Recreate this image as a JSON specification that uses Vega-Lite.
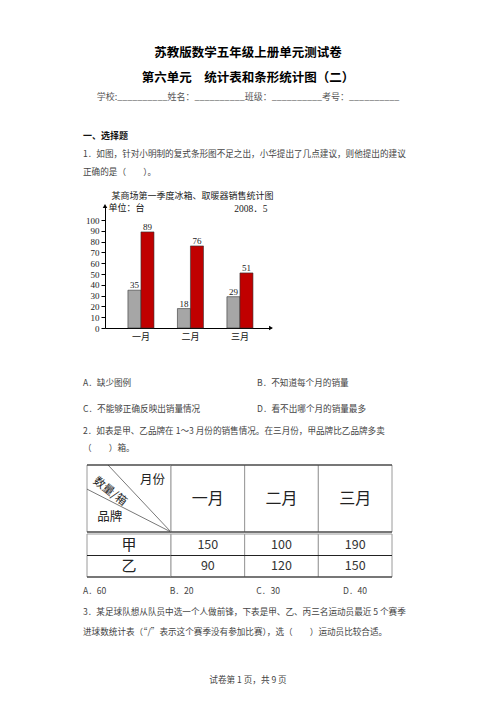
{
  "$schema": "https://vega.github.io/schema/vega-lite/v6.json",
  "padding": 0,
  "spacing": 0,
  "background": "#ffffff",
  "config": {
    "view": {"stroke": null},
    "font": "Noto Sans CJK SC",
    "text": {"font": "Noto Sans CJK SC", "color": "#444444", "baseline": "middle"}
  },
  "datasets": {
    "文本": [
      {"块": "标题", "行": 1, "栏": 1, "文字": "苏教版数学五年级上册单元测试卷"},
      {"块": "标题", "行": 2, "栏": 1, "文字": "第六单元　统计表和条形统计图（二）"},
      {"块": "信息", "行": 1, "栏": 1, "文字": "学校:__________姓名：__________班级：__________考号：__________"},
      {"块": "题一", "行": 1, "栏": 1, "文字": "一、选择题"},
      {"块": "题一", "行": 2, "栏": 1, "文字": "1．如图，针对小明制的复式条形图不足之出，小华提出了几点建议，则他提出的建议"},
      {"块": "题一", "行": 3, "栏": 1, "文字": "正确的是（　　）。"},
      {"块": "题一选项", "行": 1, "栏": 1, "文字": "A．缺少图例"},
      {"块": "题一选项", "行": 1, "栏": 2, "文字": "B．不知道每个月的销量"},
      {"块": "题一选项", "行": 2, "栏": 1, "文字": "C．不能够正确反映出销量情况"},
      {"块": "题一选项", "行": 2, "栏": 2, "文字": "D．看不出哪个月的销量最多"},
      {"块": "题二", "行": 1, "栏": 1, "文字": "2．如表是甲、乙品牌在 1～3 月份的销售情况。在三月份，甲品牌比乙品牌多卖"},
      {"块": "题二", "行": 2, "栏": 1, "文字": "（　　）箱。"},
      {"块": "题二选项", "行": 1, "栏": 1, "文字": "A．60"},
      {"块": "题二选项", "行": 1, "栏": 2, "文字": "B．20"},
      {"块": "题二选项", "行": 1, "栏": 3, "文字": "C．30"},
      {"块": "题二选项", "行": 1, "栏": 4, "文字": "D．40"},
      {"块": "题三", "行": 1, "栏": 1, "文字": "3．某足球队想从队员中选一个人做前锋，下表是甲、乙、丙三名运动员最近 5 个赛季"},
      {"块": "题三", "行": 2, "栏": 1, "文字": "进球数统计表（“/”表示这个赛季没有参加比赛），选（　　）运动员比较合适。"},
      {"块": "页脚", "行": 1, "栏": 1, "文字": "试卷第 1 页，共 9 页"}
    ],
    "销量": [
      {"月份": "一月", "商品": "冰箱", "台数": 35},
      {"月份": "一月", "商品": "取暖器", "台数": 89},
      {"月份": "二月", "商品": "冰箱", "台数": 18},
      {"月份": "二月", "商品": "取暖器", "台数": 76},
      {"月份": "三月", "商品": "冰箱", "台数": 29},
      {"月份": "三月", "商品": "取暖器", "台数": 51}
    ],
    "销售": [
      {"品牌": "甲", "月份": "一月", "箱数": 150},
      {"品牌": "甲", "月份": "二月", "箱数": 100},
      {"品牌": "甲", "月份": "三月", "箱数": 190},
      {"品牌": "乙", "月份": "一月", "箱数": 90},
      {"品牌": "乙", "月份": "二月", "箱数": 120},
      {"品牌": "乙", "月份": "三月", "箱数": 150}
    ],
    "表头标签": [
      {"标签": "月份"},
      {"标签": "数量/箱"},
      {"标签": "品牌"}
    ]
  },
  "vconcat": [
    {
      "width": 496,
      "height": 192,
      "data": {"name": "文本"},
      "resolve": {"scale": {"y": "independent"}},
      "layer": [
        {
          "transform": [{"filter": "datum.块 == '标题'"}],
          "mark": {"type": "text", "fontSize": 12.5, "fontWeight": "bold", "align": "center", "color": "#000000"},
          "encoding": {
            "x": {"value": 248},
            "y": {"field": "行", "type": "ordinal", "scale": {"type": "point", "domain": [1, 2], "range": [53, 77.5], "padding": 0}, "axis": null},
            "text": {"field": "文字"}
          }
        },
        {
          "transform": [{"filter": "datum.块 == '信息'"}],
          "mark": {"type": "text", "fontSize": 9, "align": "center", "color": "#555555"},
          "encoding": {
            "x": {"value": 248},
            "y": {"field": "行", "type": "ordinal", "scale": {"type": "point", "domain": [1], "range": [97, 97], "padding": 0}, "axis": null},
            "text": {"field": "文字"}
          }
        },
        {
          "transform": [{"filter": "datum.块 == '题一' && datum.行 == 1"}],
          "mark": {"type": "text", "fontSize": 9, "fontWeight": "bold", "align": "left", "color": "#111111"},
          "encoding": {
            "x": {"value": 83},
            "y": {"field": "行", "type": "ordinal", "scale": {"type": "point", "domain": [1, 2, 3], "range": [135.5, 172], "padding": 0}, "axis": null},
            "text": {"field": "文字"}
          }
        },
        {
          "transform": [{"filter": "datum.块 == '题一' && datum.行 > 1"}],
          "mark": {"type": "text", "fontSize": 8.6, "align": "left"},
          "encoding": {
            "x": {"value": 83},
            "y": {"field": "行", "type": "ordinal", "scale": {"type": "point", "domain": [1, 2, 3], "range": [135.5, 172], "padding": 0}, "axis": null},
            "text": {"field": "文字"}
          }
        }
      ]
    },
    {
      "width": 271,
      "height": 122,
      "title": {
        "text": "某商场第一季度冰箱、取暖器销售统计图",
        "font": "Noto Sans CJK SC",
        "fontSize": 9,
        "fontWeight": "normal",
        "color": "#222222",
        "anchor": "middle",
        "frame": "group",
        "offset": 2,
        "dx": 57
      },
      "data": {"name": "销量"},
      "layer": [
        {
          "mark": {"type": "bar", "stroke": "#333333", "strokeWidth": 0.6},
          "encoding": {
            "x": {
              "field": "月份", "type": "nominal", "sort": ["一月", "二月", "三月"],
              "scale": {"range": [105, 271], "paddingInner": 0, "paddingOuter": 0.177, "align": 0.64},
              "axis": {
                "title": "2008．5", "titleX": 267, "titleY": -120, "titleAlign": "right", "titleBaseline": "middle",
                "titleFont": "Liberation Serif, Noto Sans CJK SC", "titleFontSize": 9.5, "titleFontWeight": "normal", "titleColor": "#222222",
                "labelAngle": 0, "labelFont": "Noto Sans CJK SC", "labelFontSize": 9, "labelColor": "#111111", "labelPadding": 4,
                "ticks": false, "domainColor": "#000000", "grid": false
              }
            },
            "xOffset": {"field": "商品", "type": "nominal", "sort": ["冰箱", "取暖器"], "scale": {"paddingInner": 0, "paddingOuter": 0.9}},
            "y": {
              "field": "台数", "type": "quantitative",
              "scale": {"domain": [0, 113], "nice": false},
              "axis": {
                "offset": -105,
                "values": [0, 10, 20, 30, 40, 50, 60, 70, 80, 90, 100],
                "tickCount": 11,
                "title": "单位：台", "titleAngle": 0, "titleAlign": "left", "titleBaseline": "middle", "titleX": 3, "titleY": 1,
                "titleFont": "Noto Sans CJK SC", "titleFontSize": 9, "titleFontWeight": "normal", "titleColor": "#111111",
                "labelFont": "Liberation Serif", "labelFontSize": 9, "labelColor": "#222222", "labelPadding": 2,
                "labelOverlap": false, "labelSeparation": 0,
                "tickSize": 4, "tickColor": "#000000", "domainColor": "#000000", "grid": false
              }
            },
            "color": {
              "field": "商品", "type": "nominal",
              "scale": {"domain": ["冰箱", "取暖器"], "range": ["#a6a6a6", "#c00000"]},
              "legend": null
            }
          }
        },
        {
          "mark": {"type": "text", "dy": -5, "font": "Liberation Serif", "fontSize": 9, "color": "#222222"},
          "encoding": {
            "x": {"field": "月份", "type": "nominal", "sort": ["一月", "二月", "三月"]},
            "xOffset": {"field": "商品", "type": "nominal", "sort": ["冰箱", "取暖器"]},
            "y": {"field": "台数", "type": "quantitative"},
            "text": {"field": "台数"}
          }
        },
        {
          "data": {"values": [{"轴": "纵轴"}]},
          "mark": {"type": "point", "shape": "triangle-up", "filled": true, "color": "#000000", "size": 20, "opacity": 1},
          "encoding": {"x": {"value": 105}, "y": {"datum": 113}}
        },
        {
          "data": {"values": [{"轴": "横轴"}]},
          "mark": {"type": "point", "shape": "triangle-right", "filled": true, "color": "#000000", "size": 20, "opacity": 1},
          "encoding": {"x": {"value": 271}, "y": {"datum": 0}}
        }
      ]
    },
    {
      "width": 496,
      "height": 123,
      "data": {"name": "文本"},
      "resolve": {"scale": {"y": "independent"}},
      "layer": [
        {
          "transform": [{"filter": "datum.块 == '题一选项'"}],
          "mark": {"type": "text", "fontSize": 8.6, "align": "left"},
          "encoding": {
            "x": {"field": "栏", "type": "ordinal", "scale": {"type": "point", "domain": [1, 2], "range": [83, 257], "padding": 0}, "axis": null},
            "y": {"field": "行", "type": "ordinal", "scale": {"type": "point", "domain": [1, 2], "range": [42, 68], "padding": 0}, "axis": null},
            "text": {"field": "文字"}
          }
        },
        {
          "transform": [{"filter": "datum.块 == '题二'"}],
          "mark": {"type": "text", "fontSize": 8.6, "align": "left"},
          "encoding": {
            "x": {"value": 83},
            "y": {"field": "行", "type": "ordinal", "scale": {"type": "point", "domain": [1, 2], "range": [90, 107], "padding": 0}, "axis": null},
            "text": {"field": "文字"}
          }
        }
      ]
    },
    {
      "hconcat": [
        {
          "width": 171,
          "height": 67,
          "layer": [
            {
              "data": {"values": [{"格": "表头"}]},
              "mark": {"type": "rect", "fill": "#ffffff", "stroke": "#9a9a9a", "strokeWidth": 1},
              "encoding": {
                "x": {"datum": 0, "type": "quantitative", "scale": {"domain": [0, 1], "range": [87, 171]}, "axis": null},
                "x2": {"datum": 1},
                "y": {"datum": 0, "type": "quantitative", "scale": {"domain": [0, 1]}, "axis": null},
                "y2": {"datum": 1}
              }
            },
            {
              "data": {"values": [{"线": "斜线一"}]},
              "mark": {"type": "rule", "stroke": "#555555", "strokeWidth": 0.8},
              "encoding": {
                "x": {"datum": 1, "type": "quantitative"}, "y": {"datum": 0, "type": "quantitative"},
                "x2": {"datum": 0.25}, "y2": {"datum": 1}
              }
            },
            {
              "data": {"values": [{"线": "斜线二"}]},
              "mark": {"type": "rule", "stroke": "#555555", "strokeWidth": 0.8},
              "encoding": {
                "x": {"datum": 1, "type": "quantitative"}, "y": {"datum": 0, "type": "quantitative"},
                "x2": {"datum": 0}, "y2": {"datum": 0.64}
              }
            },
            {
              "data": {"values": [{"线": "上边"}]},
              "mark": {"type": "rule", "stroke": "#222222", "strokeWidth": 1.2},
              "encoding": {"x": {"datum": 0, "type": "quantitative"}, "x2": {"datum": 1}, "y": {"datum": 1, "type": "quantitative"}}
            },
            {
              "data": {"values": [{"线": "下边"}]},
              "mark": {"type": "rule", "stroke": "#222222", "strokeWidth": 1.2},
              "encoding": {"x": {"datum": 0, "type": "quantitative"}, "x2": {"datum": 1}, "y": {"datum": 0, "type": "quantitative"}}
            },
            {
              "data": {"name": "表头标签"},
              "transform": [{"filter": "datum.标签 == '月份'"}],
              "mark": {"type": "text", "fontSize": 12.5, "align": "center", "color": "#222222"},
              "encoding": {"x": {"datum": 0.78, "type": "quantitative"}, "y": {"datum": 0.78, "type": "quantitative"}, "text": {"field": "标签"}}
            },
            {
              "data": {"name": "表头标签"},
              "transform": [{"filter": "datum.标签 == '品牌'"}],
              "mark": {"type": "text", "fontSize": 12.5, "align": "center", "color": "#222222"},
              "encoding": {"x": {"datum": 0.27, "type": "quantitative"}, "y": {"datum": 0.22, "type": "quantitative"}, "text": {"field": "标签"}}
            },
            {
              "data": {"name": "表头标签"},
              "transform": [{"filter": "datum.标签 == '数量/箱'"}],
              "mark": {"type": "text", "fontSize": 11.5, "align": "center", "angle": 38, "color": "#222222"},
              "encoding": {"x": {"datum": 0.27, "type": "quantitative"}, "y": {"datum": 0.6, "type": "quantitative"}, "text": {"field": "标签"}}
            }
          ]
        },
        {
          "width": 221,
          "height": 67,
          "layer": [
            {
              "data": {"name": "销售"},
              "transform": [{"aggregate": [], "groupby": ["月份"]}],
              "mark": {"type": "rect", "fill": "#ffffff", "stroke": "#9a9a9a", "strokeWidth": 1},
              "encoding": {
                "x": {"field": "月份", "type": "nominal", "sort": ["一月", "二月", "三月"], "scale": {"paddingInner": 0, "paddingOuter": 0}, "axis": null},
                "y": {"datum": 0, "type": "quantitative", "scale": {"domain": [0, 1]}, "axis": null},
                "y2": {"datum": 1}
              }
            },
            {
              "data": {"name": "销售"},
              "transform": [{"aggregate": [], "groupby": ["月份"]}],
              "mark": {"type": "text", "fontSize": 16, "align": "center", "color": "#222222"},
              "encoding": {
                "x": {"field": "月份", "type": "nominal", "sort": ["一月", "二月", "三月"]},
                "y": {"datum": 0.5, "type": "quantitative"},
                "text": {"field": "月份"}
              }
            },
            {
              "data": {"values": [{"线": "上边"}]},
              "mark": {"type": "rule", "stroke": "#222222", "strokeWidth": 1.2},
              "encoding": {"y": {"datum": 1, "type": "quantitative"}}
            },
            {
              "data": {"values": [{"线": "下边"}]},
              "mark": {"type": "rule", "stroke": "#222222", "strokeWidth": 1.2},
              "encoding": {"y": {"datum": 0, "type": "quantitative"}}
            }
          ]
        }
      ],
      "spacing": 0,
      "bounds": "flush"
    },
    {
      "hconcat": [
        {
          "width": 171,
          "height": 43,
          "data": {"name": "销售"},
          "transform": [{"aggregate": [], "groupby": ["品牌"]}],
          "layer": [
            {
              "mark": {"type": "rect", "fill": "#ffffff", "stroke": "#9a9a9a", "strokeWidth": 1},
              "encoding": {
                "x": {"datum": 0, "type": "quantitative", "scale": {"domain": [0, 1], "range": [87, 171]}, "axis": null},
                "x2": {"datum": 1},
                "y": {"field": "品牌", "type": "nominal", "sort": ["甲", "乙"], "scale": {"paddingInner": 0, "paddingOuter": 0}, "axis": null}
              }
            },
            {
              "mark": {"type": "text", "fontSize": 15, "align": "center", "color": "#222222"},
              "encoding": {
                "x": {"datum": 0.5, "type": "quantitative"},
                "y": {"field": "品牌", "type": "nominal", "sort": ["甲", "乙"]},
                "text": {"field": "品牌"}
              }
            },
            {
              "mark": {"type": "rule", "stroke": "#222222", "strokeWidth": 1.2},
              "encoding": {
                "x": {"datum": 0, "type": "quantitative"},
                "x2": {"datum": 1},
                "y": {"field": "品牌", "type": "nominal", "sort": ["甲", "乙"], "bandPosition": 1}
              }
            }
          ]
        },
        {
          "width": 221,
          "height": 43,
          "data": {"name": "销售"},
          "layer": [
            {
              "mark": {"type": "rect", "fill": "#ffffff", "stroke": "#9a9a9a", "strokeWidth": 1},
              "encoding": {
                "x": {"field": "月份", "type": "nominal", "sort": ["一月", "二月", "三月"], "scale": {"paddingInner": 0, "paddingOuter": 0}, "axis": null},
                "y": {"field": "品牌", "type": "nominal", "sort": ["甲", "乙"], "scale": {"paddingInner": 0, "paddingOuter": 0}, "axis": null}
              }
            },
            {
              "mark": {"type": "text", "fontSize": 12.5, "align": "center", "color": "#333333"},
              "encoding": {
                "x": {"field": "月份", "type": "nominal", "sort": ["一月", "二月", "三月"]},
                "y": {"field": "品牌", "type": "nominal", "sort": ["甲", "乙"]},
                "text": {"field": "箱数"}
              }
            },
            {
              "transform": [{"aggregate": [], "groupby": ["品牌"]}],
              "mark": {"type": "rule", "stroke": "#222222", "strokeWidth": 1.2},
              "encoding": {
                "y": {"field": "品牌", "type": "nominal", "sort": ["甲", "乙"], "bandPosition": 1}
              }
            }
          ]
        }
      ],
      "spacing": 0,
      "bounds": "flush"
    },
    {
      "width": 496,
      "height": 129,
      "data": {"name": "文本"},
      "resolve": {"scale": {"y": "independent"}},
      "layer": [
        {
          "transform": [{"filter": "datum.块 == '题二选项'"}],
          "mark": {"type": "text", "fontSize": 8.6, "align": "left"},
          "encoding": {
            "x": {"field": "栏", "type": "ordinal", "scale": {"type": "point", "domain": [1, 2, 3, 4], "range": [83, 343], "padding": 0}, "axis": null},
            "y": {"field": "行", "type": "ordinal", "scale": {"type": "point", "domain": [1], "range": [13, 13], "padding": 0}, "axis": null},
            "text": {"field": "文字"}
          }
        },
        {
          "transform": [{"filter": "datum.块 == '题三'"}],
          "mark": {"type": "text", "fontSize": 8.6, "align": "left"},
          "encoding": {
            "x": {"value": 83},
            "y": {"field": "行", "type": "ordinal", "scale": {"type": "point", "domain": [1, 2], "range": [34, 54], "padding": 0}, "axis": null},
            "text": {"field": "文字"}
          }
        },
        {
          "transform": [{"filter": "datum.块 == '页脚'"}],
          "mark": {"type": "text", "fontSize": 8.6, "align": "center"},
          "encoding": {
            "x": {"value": 248},
            "y": {"field": "行", "type": "ordinal", "scale": {"type": "point", "domain": [1], "range": [102, 102], "padding": 0}, "axis": null},
            "text": {"field": "文字"}
          }
        }
      ]
    }
  ]
}
